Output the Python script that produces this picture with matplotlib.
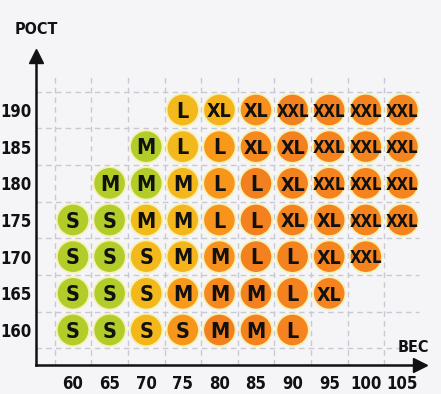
"""
Size chart: height (РОСТ) vs weight (ВЕС) with clothing sizes in circles.
"""
import matplotlib
matplotlib.use("Agg")
import matplotlib.pyplot as plt
from matplotlib.colors import LinearSegmentedColormap

# ---- data ----
weights = [60, 65, 70, 75, 80, 85, 90, 95, 100, 105]
heights = [160, 165, 170, 175, 180, 185, 190]

# sizes per height row, starting from the first weight that has a size
start_weight = {160: 60, 165: 60, 170: 60, 175: 60, 180: 65, 185: 70, 190: 75}
sizes = {
    160: ["S", "S", "S", "S", "M", "M", "L"],
    165: ["S", "S", "S", "M", "M", "M", "L", "XL"],
    170: ["S", "S", "S", "M", "M", "L", "L", "XL", "XXL"],
    175: ["S", "S", "M", "M", "L", "L", "XL", "XL", "XXL", "XXL"],
    180: ["M", "M", "M", "L", "L", "XL", "XXL", "XXL", "XXL"],
    185: ["M", "L", "L", "XL", "XL", "XXL", "XXL", "XXL"],
    190: ["L", "XL", "XL", "XXL", "XXL", "XXL", "XXL"],
}

x_label = "ВЕС"
y_label = "РОСТ"

# narrow bold face if one is installed
FONT = ["Liberation Sans Narrow", "DejaVu Sans"]
plt.rcParams["font.family"] = FONT
plt.rcParams["font.stretch"] = "condensed"

cmap = LinearSegmentedColormap.from_list(
    "sizes",
    [(0.0, "#b2cc2a"), (0.16, "#b2cc2a"), (0.185, "#f2bb1c"),
     (0.39, "#f5b41b"), (0.41, "#f99a1a"), (0.55, "#f7901d"),
     (0.6, "#f3801f"), (1.0, "#f5841f")],
)

fig = plt.figure(figsize=(4.41, 3.94), dpi=100)
fig.patch.set_facecolor("#f5f5f7")

W, H = 441, 394
left_px, right_px = 36, 420
bottom_px, top_px = 365, 56
ax = fig.add_axes([left_px / W, (H - bottom_px) / H,
                   (right_px - left_px) / W, (bottom_px - top_px) / H])
ax.set_facecolor("none")

px_x = 36.6 / 5  # pixels per kg
px_y = 36.67 / 5  # pixels per cm
ax.set_xlim(60 - (73 - left_px) / px_x, 60 + (right_px - 73) / px_x)
ax.set_ylim(160 - (bottom_px - 330) / px_y, 160 + (330 - top_px) / px_y)

# dashed grid between cells
grid_kw = dict(color="#c9c9d3", linestyle=(0, (4, 3)), linewidth=1.0,
               zorder=1, clip_on=False)
for w in weights:
    ax.plot([w - 2.5, w - 2.5], [ax.get_ylim()[0], 194.8], **grid_kw)
for h in heights:
    ax.plot([ax.get_xlim()[0], 107.2], [h - 2.5, h - 2.5], **grid_kw)
ax.plot([ax.get_xlim()[0], 107.2], [192.5, 192.5], **grid_kw)

# circles with size labels
xs, ys, labels, tone = [], [], [], []
for h in heights:
    w0 = start_weight[h]
    for i, s in enumerate(sizes[h]):
        w = w0 + 5 * i
        xs.append(w)
        ys.append(h)
        labels.append(s)
        c = weights.index(w)
        r = heights.index(h)
        tone.append(min(max((c - r / 4) / 6.5, 0), 1))

ax.scatter(xs, ys, s=540, c=tone, cmap=cmap, vmin=0, vmax=1,
           edgecolors="#f6f1b0", linewidths=1.2, zorder=3, clip_on=False)
for x, y, s in zip(xs, ys, labels):
    fs = {1: 15.5, 2: 14, 3: 12}[len(s)]
    ax.text(x, y - 0.25, s, ha="center", va="center", fontsize=fs,
            fontweight="bold", color="#111111", zorder=4)

# axes with arrows
for side in ("top", "right"):
    ax.spines[side].set_visible(False)
for side in ("left", "bottom"):
    ax.spines[side].set_linewidth(1.8)
    ax.spines[side].set_color("#111111")
ax.plot(1, 0, ">", color="#111111", markersize=10, transform=ax.transAxes,
        clip_on=False, zorder=5)
ax.plot(0, 1, "^", color="#111111", markersize=10, transform=ax.transAxes,
        clip_on=False, zorder=5)

ax.set_xticks(weights)
ax.set_yticks(heights)
ax.tick_params(length=0)
ax.tick_params(axis="x", pad=7)
ax.tick_params(axis="y", pad=3)
for lab in ax.get_xticklabels() + ax.get_yticklabels():
    lab.set_fontsize(12)
    lab.set_fontweight("bold")
    lab.set_color("#111111")

ax.text(0, 1.06, y_label, transform=ax.transAxes, ha="center", va="bottom",
        fontsize=11.5, fontweight="bold", color="#111111", clip_on=False)
ax.text(0.982, 0.058, x_label, transform=ax.transAxes, ha="center",
        va="center", fontsize=11.5, fontweight="bold", color="#111111",
        clip_on=False)

fig.savefig("out.png", dpi=100, facecolor=fig.get_facecolor())
